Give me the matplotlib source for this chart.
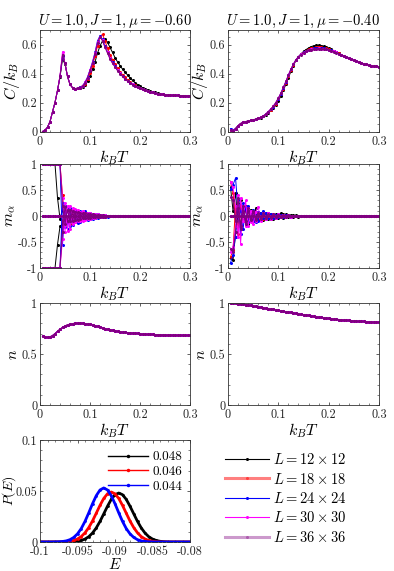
import numpy as np
import matplotlib
matplotlib.use("Agg")
import matplotlib.pyplot as plt
from matplotlib.lines import Line2D
from matplotlib.ticker import MultipleLocator, FixedLocator, FixedFormatter

plt.rcParams['mathtext.fontset'] = 'cm'
plt.rcParams['font.family'] = ['cmr10', 'DejaVu Serif']
plt.rcParams['axes.unicode_minus'] = False

# ---------------- data ----------------
sizes = ["$L=12\\times12$", "$L=18\\times18$", "$L=24\\times24$", "$L=30\\times30$", "$L=36\\times36$"]
colors = ["black", "red", "blue", "magenta", "#800080"]
titles = ["$U=1.0, J=1, \\mu=-0.60$", "$U=1.0, J=1, \\mu=-0.40$"]

T = np.round(np.arange(1, 61) * 0.005, 3)          # 0.005 ... 0.300
T_m = T[:30]                                       # 0.005 ... 0.150
T_tail = T[30:]                                    # 0.155 ... 0.300
m_tail = [0.0] * 30

# specific heat, mu = -0.60
C_left_36 = [0.0, 0.008, 0.03, 0.068, 0.135, 0.20, 0.283, 0.38, 0.53, 0.47, 0.38, 0.325, 0.302, 0.296, 0.298,
             0.303, 0.312, 0.335, 0.37, 0.42, 0.47, 0.535, 0.61, 0.655, 0.625, 0.58, 0.54, 0.50, 0.47, 0.445,
             0.42, 0.40, 0.38, 0.362, 0.347, 0.335, 0.324, 0.314, 0.305, 0.297, 0.29, 0.284, 0.278, 0.273, 0.269,
             0.265, 0.262, 0.259, 0.257, 0.255, 0.253, 0.252, 0.251, 0.25, 0.249, 0.248, 0.248, 0.247, 0.247, 0.247]
C_left_30 = [0.0, 0.008, 0.03, 0.068, 0.135, 0.20, 0.283, 0.385, 0.55, 0.47, 0.38, 0.325, 0.302, 0.296, 0.298,
             0.303, 0.313, 0.338, 0.372, 0.423, 0.475, 0.54, 0.615, 0.655, 0.628, 0.585, 0.545, 0.505, 0.473, 0.447,
             0.422, 0.401, 0.381, 0.363, 0.348, 0.336, 0.325, 0.315, 0.306, 0.298, 0.29, 0.284, 0.278, 0.273, 0.269,
             0.265, 0.262, 0.259, 0.257, 0.255, 0.253, 0.252, 0.251, 0.25, 0.249, 0.248, 0.248, 0.247, 0.247, 0.247]
C_left_24 = [0.0, 0.008, 0.03, 0.068, 0.135, 0.20, 0.283, 0.38, 0.52, 0.47, 0.38, 0.325, 0.302, 0.296, 0.298,
             0.304, 0.315, 0.34, 0.375, 0.425, 0.48, 0.545, 0.625, 0.66, 0.635, 0.59, 0.55, 0.51, 0.478, 0.45,
             0.425, 0.403, 0.383, 0.365, 0.35, 0.337, 0.326, 0.316, 0.307, 0.299, 0.291, 0.285, 0.279, 0.273, 0.269,
             0.265, 0.262, 0.259, 0.257, 0.255, 0.253, 0.252, 0.251, 0.25, 0.249, 0.248, 0.248, 0.247, 0.247, 0.247]
C_left_18 = [0.0, 0.008, 0.03, 0.068, 0.135, 0.20, 0.283, 0.38, 0.52, 0.47, 0.38, 0.325, 0.302, 0.296, 0.298,
             0.305, 0.316, 0.33, 0.36, 0.405, 0.455, 0.52, 0.59, 0.655, 0.67, 0.625, 0.575, 0.53, 0.495, 0.465,
             0.437, 0.413, 0.392, 0.373, 0.357, 0.343, 0.33, 0.319, 0.309, 0.30, 0.292, 0.285, 0.279, 0.274, 0.269,
             0.265, 0.262, 0.259, 0.257, 0.255, 0.253, 0.252, 0.251, 0.25, 0.249, 0.248, 0.248, 0.247, 0.247, 0.247]
C_left_12 = [0.0, 0.008, 0.03, 0.068, 0.135, 0.20, 0.283, 0.375, 0.50, 0.465, 0.38, 0.325, 0.302, 0.296, 0.298,
             0.302, 0.31, 0.32, 0.345, 0.38, 0.43, 0.48, 0.54, 0.59, 0.625, 0.635, 0.615, 0.58, 0.545, 0.51,
             0.48, 0.455, 0.43, 0.41, 0.39, 0.37, 0.352, 0.337, 0.324, 0.312, 0.302, 0.294, 0.287, 0.28, 0.274,
             0.269, 0.264, 0.26, 0.257, 0.255, 0.253, 0.252, 0.251, 0.25, 0.249, 0.248, 0.248, 0.247, 0.247, 0.247]

# specific heat, mu = -0.40
C_right_36 = [0.01, 0.005, 0.02, 0.04, 0.055, 0.063, 0.068, 0.072, 0.076, 0.08, 0.085, 0.09, 0.097, 0.107, 0.12,
              0.137, 0.155, 0.175, 0.20, 0.23, 0.265, 0.305, 0.345, 0.39, 0.43, 0.465, 0.495, 0.515, 0.53, 0.542,
              0.552, 0.56, 0.565, 0.569, 0.571, 0.572, 0.571, 0.569, 0.566, 0.562, 0.557, 0.551, 0.544, 0.537, 0.529,
              0.521, 0.513, 0.505, 0.498, 0.491, 0.484, 0.478, 0.472, 0.467, 0.463, 0.459, 0.455, 0.452, 0.449, 0.447]
C_right_30 = [0.012, 0.006, 0.02, 0.04, 0.055, 0.063, 0.068, 0.072, 0.076, 0.08, 0.085, 0.09, 0.097, 0.107, 0.12,
              0.137, 0.155, 0.175, 0.20, 0.23, 0.265, 0.305, 0.345, 0.39, 0.43, 0.465, 0.495, 0.516, 0.532, 0.544,
              0.553, 0.561, 0.566, 0.57, 0.572, 0.573, 0.572, 0.57, 0.567, 0.563, 0.558, 0.552, 0.545, 0.537, 0.529,
              0.521, 0.513, 0.505, 0.498, 0.491, 0.484, 0.478, 0.472, 0.467, 0.463, 0.459, 0.455, 0.452, 0.449, 0.447]
C_right_24 = [0.02, 0.01, 0.02, 0.04, 0.055, 0.063, 0.068, 0.072, 0.076, 0.08, 0.085, 0.09, 0.097, 0.107, 0.12,
              0.136, 0.153, 0.172, 0.197, 0.227, 0.262, 0.302, 0.342, 0.387, 0.428, 0.463, 0.494, 0.516, 0.533, 0.545,
              0.555, 0.563, 0.569, 0.573, 0.575, 0.576, 0.575, 0.573, 0.569, 0.564, 0.559, 0.553, 0.545, 0.537, 0.529,
              0.521, 0.513, 0.505, 0.498, 0.491, 0.484, 0.478, 0.472, 0.467, 0.463, 0.459, 0.455, 0.452, 0.449, 0.447]
C_right_18 = [0.012, 0.006, 0.02, 0.04, 0.055, 0.063, 0.068, 0.072, 0.076, 0.08, 0.085, 0.09, 0.097, 0.106, 0.118,
              0.134, 0.15, 0.17, 0.193, 0.222, 0.256, 0.295, 0.335, 0.38, 0.422, 0.46, 0.492, 0.515, 0.533, 0.547,
              0.558, 0.567, 0.574, 0.579, 0.582, 0.583, 0.582, 0.578, 0.573, 0.568, 0.562, 0.555, 0.546, 0.538, 0.529,
              0.521, 0.513, 0.505, 0.498, 0.491, 0.484, 0.478, 0.472, 0.467, 0.463, 0.459, 0.455, 0.452, 0.449, 0.447]
C_right_12 = [0.01, 0.005, 0.02, 0.04, 0.055, 0.063, 0.068, 0.072, 0.076, 0.08, 0.085, 0.09, 0.096, 0.105, 0.116,
              0.13, 0.147, 0.165, 0.185, 0.21, 0.245, 0.285, 0.325, 0.37, 0.415, 0.455, 0.49, 0.515, 0.535, 0.552,
              0.565, 0.576, 0.585, 0.591, 0.594, 0.595, 0.593, 0.588, 0.582, 0.575, 0.567, 0.558, 0.549, 0.54, 0.53,
              0.521, 0.513, 0.505, 0.498, 0.491, 0.484, 0.478, 0.472, 0.467, 0.463, 0.459, 0.455, 0.452, 0.449, 0.447]

# order parameter components, mu = -0.60 (T = 0.005 ... 0.150)
m_left = {
    0: ([1, 1, 1, 1, 1, 1, 0.35, -0.05, 0.12, -0.08, 0.15, -0.1, 0.06, -0.09, 0.07, -0.05, 0.04, -0.06, 0.03, -0.03,
         0.02, -0.02, 0.015, -0.01, 0.01, -0.01, 0.005, 0, 0, 0],
        [-1, -1, -1, -1, -1, -1, -0.55, -0.2, -0.15, 0.1, -0.12, 0.08, -0.1, 0.05, -0.06, 0.06, -0.04, 0.03, -0.04, 0.02,
         -0.02, 0.02, -0.01, 0.01, -0.01, 0.005, 0, 0, 0, 0]),
    1: ([1, 1, 1, 1, 1, 1, 1, 1, 0.4, -0.1, 0.18, -0.15, 0.1, -0.12, 0.09, -0.07, 0.06, -0.05, 0.05, -0.04,
         0.03, -0.03, 0.02, -0.015, 0.01, -0.01, 0.005, 0, 0, 0],
        [-1, -1, -1, -1, -1, -1, -1, -1, -0.1, 0.2, -0.12, 0.14, -0.08, 0.1, -0.1, 0.06, -0.05, 0.07, -0.03, 0.04,
         -0.03, 0.02, -0.02, 0.01, -0.01, 0.005, 0, 0, 0, 0]),
    2: ([1, 1, 1, 1, 1, 1, 1, 1, -0.55, 0.2, -0.25, 0.15, -0.18, 0.12, -0.14, 0.1, -0.08, 0.09, -0.07, 0.05,
         -0.05, 0.04, -0.03, 0.02, -0.02, 0.01, -0.01, 0.005, 0, 0],
        [-1, -1, -1, -1, -1, -1, -1, -1, 0.25, -0.22, 0.18, -0.2, 0.13, -0.1, 0.1, -0.12, 0.07, -0.06, 0.06, -0.05,
         0.03, -0.03, 0.03, -0.02, 0.01, -0.01, 0.005, 0, 0, 0]),
    3: ([1, 1, 1, 1, 1, 1, 1, 1, 0.35, -0.3, 0.2, -0.25, 0.15, -0.12, 0.12, -0.1, 0.1, -0.07, 0.06, -0.05,
         0.04, -0.04, 0.03, -0.02, 0.02, -0.01, 0.005, 0, 0, 0],
        [-1, -1, -1, -1, -1, -1, -1, -1, -0.45, 0.25, -0.28, 0.2, -0.15, 0.14, -0.1, 0.08, -0.09, 0.06, -0.05, 0.05,
         -0.03, 0.03, -0.02, 0.02, -0.01, 0.01, 0, 0, 0, 0]),
    4: ([1, 1, 1, 1, 1, 1, 1, 1, 0.2, -0.15, 0.12, -0.1, 0.1, -0.08, 0.07, -0.06, 0.05, -0.04, 0.04, -0.03,
         0.03, -0.02, 0.02, -0.015, 0.01, -0.01, 0.005, 0, 0, 0],
        [-1, -1, -1, -1, -1, -1, -1, -1, -0.3, 0.18, -0.1, 0.12, -0.09, 0.07, -0.08, 0.05, -0.04, 0.05, -0.03, 0.03,
         -0.02, 0.02, -0.015, 0.01, -0.01, 0.005, 0, 0, 0, 0]),
}
m_zero = [0.0] * 30

# order parameter components, mu = -0.40 (T = 0.005 ... 0.150)
m_right = {
    0: ([0.55, 0.1, 0.45, -0.2, 0.3, -0.1, 0.2, -0.15, 0.12, -0.1, 0.15, -0.08, 0.06, -0.07, 0.05, -0.06, 0.04, -0.05,
         0.03, -0.04, 0.05, -0.03, 0.03, -0.02, 0.02, -0.015, 0.01, -0.01, 0.005, 0],
        [-0.8, -0.85, -0.3, 0.25, -0.25, 0.15, -0.12, 0.1, -0.1, 0.08, -0.06, 0.07, -0.05, 0.04, -0.04, 0.03, -0.05, 0.04,
         -0.03, 0.02, -0.02, 0.03, -0.02, 0.01, -0.01, 0.01, -0.005, 0, 0, 0]),
    1: ([0.66, 0.45, -0.1, 0.3, -0.2, 0.15, -0.15, 0.12, -0.08, 0.1, -0.07, 0.06, -0.06, 0.05, -0.04, 0.04, -0.03, 0.03,
         -0.02, 0.02, -0.02, 0.015, -0.01, 0.01, -0.01, 0.005, 0, 0, 0, 0],
        [-0.79, -0.65, 0.2, -0.35, 0.2, -0.1, 0.12, -0.12, 0.09, -0.06, 0.06, -0.05, 0.04, -0.05, 0.03, -0.03, 0.02, -0.03,
         0.02, -0.01, 0.01, -0.01, 0.01, -0.005, 0, 0, 0, 0, 0, 0]),
    2: ([0.52, 0.6, 0.73, 0.1, -0.35, 0.25, -0.15, 0.2, -0.1, 0.12, -0.12, 0.08, -0.06, 0.1, -0.05, 0.05, -0.04, 0.04,
         -0.03, 0.03, -0.02, 0.02, -0.015, 0.01, -0.01, 0.005, 0, 0, 0, 0],
        [-0.9, -0.75, -0.4, 0.3, 0.1, -0.25, 0.18, -0.12, 0.1, -0.1, 0.07, -0.09, 0.05, -0.04, 0.06, -0.03, 0.03, -0.03,
         0.02, -0.02, 0.015, -0.01, 0.01, -0.005, 0, 0, 0, 0, 0, 0]),
    3: ([0.66, 0.55, 0.2, -0.4, 0.35, -0.1, 0.3, -0.2, 0.1, -0.15, 0.08, 0.18, -0.1, 0.06, -0.05, 0.05, -0.05, 0.04,
         -0.03, 0.03, -0.02, 0.02, -0.02, 0.01, -0.01, 0.005, 0, 0, 0, 0],
        [-0.7, -0.6, -0.2, 0.4, -0.53, 0.2, -0.2, 0.15, -0.12, 0.08, -0.1, 0.06, -0.08, 0.05, -0.04, 0.05, -0.03, 0.02,
         -0.02, 0.02, -0.01, 0.01, -0.01, 0.005, 0, 0, 0, 0, 0, 0]),
    4: ([0.36, 0.3, -0.1, 0.35, -0.2, 0.2, -0.1, 0.15, -0.08, 0.1, -0.07, 0.06, -0.05, 0.05, -0.04, 0.03, -0.03, 0.03,
         -0.02, 0.02, -0.015, 0.01, -0.01, 0.01, -0.005, 0, 0, 0, 0, 0],
        [-0.63, -0.7, -0.3, 0.15, -0.25, 0.1, -0.15, 0.1, -0.06, 0.08, -0.06, 0.04, -0.04, 0.03, -0.03, 0.02, -0.02, 0.02,
         -0.01, 0.01, -0.01, 0.005, 0, 0, 0, 0, 0, 0, 0, 0]),
}

# density
n_left = [0.675, 0.665, 0.663, 0.668, 0.68, 0.70, 0.722, 0.742, 0.76, 0.774, 0.785, 0.793, 0.798, 0.801, 0.803,
          0.803, 0.802, 0.799, 0.796, 0.791, 0.785, 0.778, 0.771, 0.764, 0.757, 0.75, 0.744, 0.738, 0.733, 0.728,
          0.724, 0.72, 0.716, 0.713, 0.71, 0.707, 0.705, 0.703, 0.701, 0.699, 0.697, 0.696, 0.694, 0.693, 0.692,
          0.691, 0.69, 0.689, 0.688, 0.687, 0.686, 0.686, 0.685, 0.685, 0.684, 0.684, 0.683, 0.683, 0.682, 0.682]
n_right = [1.0, 1.0, 0.998, 0.995, 0.992, 0.988, 0.984, 0.98, 0.976, 0.971, 0.967, 0.962, 0.958, 0.954, 0.949,
           0.945, 0.941, 0.937, 0.932, 0.928, 0.924, 0.92, 0.915, 0.911, 0.907, 0.902, 0.898, 0.894, 0.89, 0.886,
           0.882, 0.878, 0.874, 0.87, 0.866, 0.862, 0.859, 0.856, 0.853, 0.85, 0.847, 0.844, 0.841, 0.838, 0.836,
           0.834, 0.832, 0.83, 0.828, 0.826, 0.824, 0.822, 0.821, 0.819, 0.818, 0.816, 0.815, 0.814, 0.813, 0.812]

# energy histograms
E = np.round(np.linspace(-0.1, -0.08, 41), 4)
PE_labels = ["0.048", "0.046", "0.044"]
PE_colors = ["black", "red", "blue"]
PE_048 = [0, 0, 0, 0, 0, 0, 0, 0, 0.0001, 0.0003, 0.0007, 0.0015, 0.0029, 0.0052, 0.0088, 0.0138, 0.0202, 0.0276,
          0.0351, 0.0418, 0.0464, 0.0480, 0.0464, 0.0418, 0.0351, 0.0276, 0.0202, 0.0138, 0.0088, 0.0052, 0.0029,
          0.0015, 0.0007, 0.0003, 0.0001, 0, 0, 0, 0, 0, 0]
PE_046 = [0, 0, 0, 0, 0, 0, 0.0001, 0.0003, 0.0007, 0.0015, 0.0030, 0.0053, 0.0090, 0.0141, 0.0206, 0.0282, 0.0359,
          0.0427, 0.0473, 0.0490, 0.0473, 0.0427, 0.0359, 0.0282, 0.0206, 0.0141, 0.0090, 0.0053, 0.0030, 0.0015,
          0.0007, 0.0003, 0.0001, 0, 0, 0, 0, 0, 0, 0, 0]
PE_044 = [0, 0, 0, 0, 0.0001, 0.0002, 0.0005, 0.0011, 0.0023, 0.0045, 0.0080, 0.0132, 0.0202, 0.0286, 0.0375, 0.0454,
          0.0510, 0.0530, 0.0510, 0.0454, 0.0375, 0.0286, 0.0202, 0.0132, 0.0080, 0.0045, 0.0023, 0.0011, 0.0005,
          0.0002, 0.0001, 0, 0, 0, 0, 0, 0, 0, 0, 0, 0]

C_left = [C_left_12, C_left_18, C_left_24, C_left_30, C_left_36]
C_right = [C_right_12, C_right_18, C_right_24, C_right_30, C_right_36]

# ---------------- figure ----------------
fig = plt.figure(figsize=(3.94, 5.71), dpi=100)
W, H = 394, 571

def add_ax(l, t, r, b):
    return fig.add_axes([l / W, 1 - b / H, (r - l) / W, (b - t) / H])

ax_C1 = add_ax(40, 30, 190, 131.5)
ax_C2 = add_ax(228, 30, 379, 131.5)
ax_m1 = add_ax(40, 164, 190, 268)
ax_m2 = add_ax(228, 164, 379, 268)
ax_n1 = add_ax(40, 303, 190, 405)
ax_n2 = add_ax(228, 303, 379, 405)
ax_P = add_ax(40, 440, 190, 542)

TICKFS = 8.8
LABFS = 11.5
TITFS = 10.5
spine_col = "#333333"

def style(ax, xt, xl, yt, yl, xlim, ylim, xminor, yminor, xpad=3):
    ax.set_xlim(*xlim)
    ax.set_ylim(*ylim)
    ax.xaxis.set_major_locator(FixedLocator(xt))
    ax.xaxis.set_major_formatter(FixedFormatter(xl))
    ax.yaxis.set_major_locator(FixedLocator(yt))
    ax.yaxis.set_major_formatter(FixedFormatter(yl))
    ax.xaxis.set_minor_locator(MultipleLocator(xminor))
    ax.yaxis.set_minor_locator(MultipleLocator(yminor))
    ax.tick_params(which='both', direction='in', top=True, right=True, labelsize=TICKFS,
                   colors='#222222')
    ax.tick_params(axis='x', pad=xpad)
    ax.tick_params(axis='y', pad=2)
    ax.tick_params(which='major', length=2.5, width=0.5)
    ax.tick_params(which='minor', length=1.3, width=0.4)
    for s in ax.spines.values():
        s.set_color(spine_col)
        s.set_linewidth(0.6)

Txt = [0, 0.1, 0.2, 0.3]
Txl = ["0", "0.1", "0.2", "0.3"]

mk = dict(marker='o', markersize=2.2, linewidth=0.7, markeredgewidth=0)

for ax, data, title in [(ax_C1, C_left, titles[0]), (ax_C2, C_right, titles[1])]:
    for i in range(5):
        ax.plot(T, data[i], color=colors[i], **mk)
    style(ax, Txt, Txl, [0, 0.2, 0.4, 0.6], ["0", "0.2", "0.4", "0.6"], (0, 0.3), (0, 0.7), 0.02, 0.05)
    ax.set_title(title, fontsize=TITFS, pad=4)
    ax.set_ylabel("$C/k_B$", fontsize=LABFS, labelpad=0)
    ax.set_xlabel("$k_BT$", fontsize=LABFS, labelpad=0)

for ax, data in [(ax_m1, m_left), (ax_m2, m_right)]:
    for i in range(5):
        ax.plot(np.concatenate([T_m, T_tail]), list(m_zero) + m_tail, color=colors[i], **mk)
        for comp in data[i]:
            ax.plot(np.concatenate([T_m, T_tail]), list(comp) + m_tail, color=colors[i], **mk)
    style(ax, Txt, Txl, [-1, -0.5, 0, 0.5, 1], ["-1", "-0.5", "0", "0.5", "1"], (0, 0.3), (-1, 1), 0.02, 0.1)
    ax.set_ylabel("$m_\\alpha$", fontsize=LABFS, labelpad=0)
    ax.set_xlabel("$k_BT$", fontsize=LABFS, labelpad=0)

for ax, data in [(ax_n1, n_left), (ax_n2, n_right)]:
    for i in range(5):
        ax.plot(T, data, color=colors[i], **mk)
    style(ax, Txt, Txl, [0, 0.5, 1], ["0", "0.5", "1"], (0, 0.3), (0, 1), 0.02, 0.1)
    ax.set_ylabel("$n$", fontsize=LABFS, labelpad=1)
    ax.set_xlabel("$k_BT$", fontsize=LABFS, labelpad=0)

for vals, c, lab in zip([PE_048, PE_046, PE_044], PE_colors, PE_labels):
    ax_P.plot(E, vals, color=c, linewidth=2.0, marker='o', markersize=2.0, markeredgewidth=0, label=lab)
style(ax_P, [-0.1, -0.095, -0.09, -0.085, -0.08], ["-0.1", "-0.095", "-0.09", "-0.085", "-0.08"],
      [0, 0.05, 0.1], ["0", "0.05", "0.1"], (-0.1, -0.08), (0, 0.1), 0.001, 0.01, xpad=3)
ax_P.set_ylabel("$P(E)$", fontsize=10)
ax_P.yaxis.set_label_coords(-0.15, 0.5)
ax_P.set_xlabel("$E$", fontsize=11, labelpad=-1)
leg = ax_P.legend(loc='upper right', bbox_to_anchor=(1.0, 0.97), frameon=False, fontsize=9.5,
                  handlelength=3.0, handletextpad=0.35, labelspacing=0.2, borderaxespad=0.2)
for h in leg.get_lines():
    h.set_linewidth(1.0)
    h.set_markersize(2.5)

# size legend
handles = []
lw_h = [0.8, 2.2, 0.8, 0.8, 2.2]
al_h = [1.0, 0.5, 1.0, 1.0, 0.4]
for i in range(5):
    handles.append(Line2D([0], [0], color=colors[i], linewidth=lw_h[i], alpha=al_h[i],
                          marker='o', markersize=2.2, markeredgewidth=0,
                          markerfacecolor=colors[i]))
fig.legend(handles, sizes, loc='upper left', bbox_to_anchor=(212 / W, 1 - 439 / H), frameon=False,
           fontsize=10.5, handlelength=3.0, handletextpad=0.3, labelspacing=0.3)

fig.savefig("out.png", dpi=100)
